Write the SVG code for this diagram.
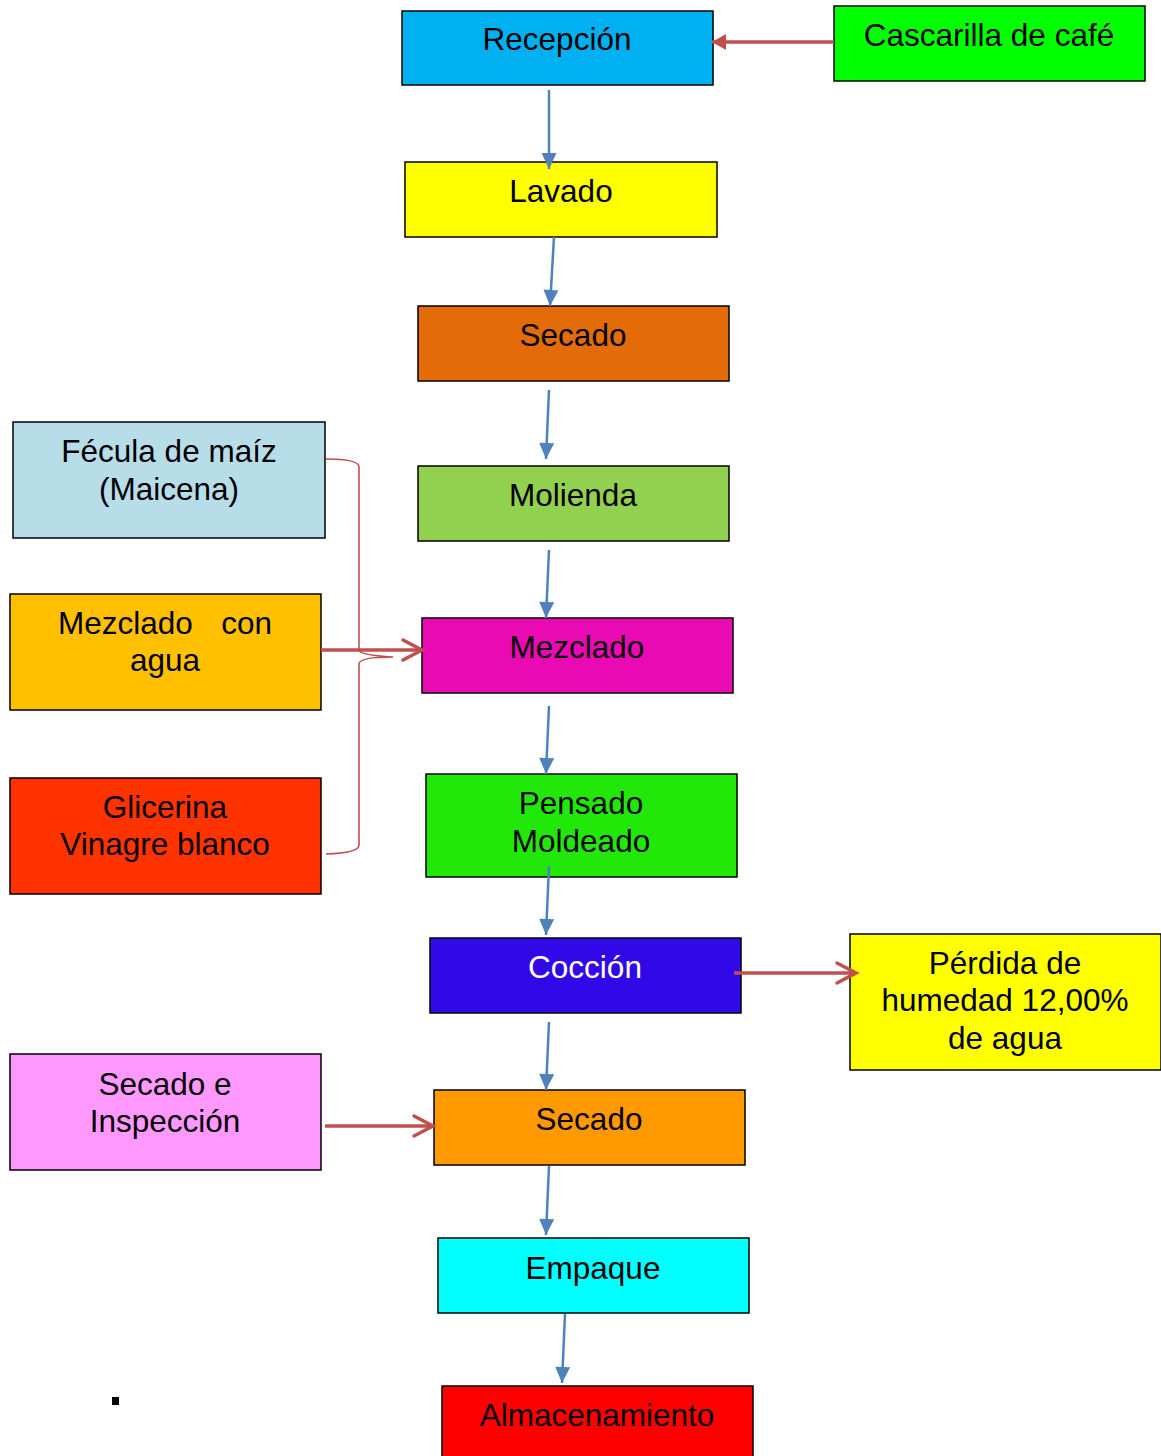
<svg xmlns="http://www.w3.org/2000/svg" width="1161" height="1456" viewBox="0 0 1161 1456">
<defs>
<style>
.box{stroke:#000;stroke-width:1.5}
.t{font-family:"Liberation Sans",Arial,sans-serif;font-size:31.5px;fill:#000;text-anchor:middle}
.blue{stroke:#4F81BD;stroke-width:2.5;fill:none}
.red{stroke:#C0504D;stroke-width:3.5;fill:none}
.brace{stroke:#C0504D;stroke-width:1.6;fill:none}
</style>
<marker id="bh" markerUnits="userSpaceOnUse" markerWidth="16" markerHeight="16" refX="16" refY="7.5" orient="auto" overflow="visible">
<path d="M0,0 L16,7.5 L0,15 z" fill="#4F81BD"/>
</marker>
<marker id="rh" markerUnits="userSpaceOnUse" markerWidth="16" markerHeight="16" refX="14" refY="8" orient="auto" overflow="visible">
<path d="M0,0 L14,8 L0,16 z" fill="#C0504D"/>
</marker>
<marker id="rv" markerUnits="userSpaceOnUse" markerWidth="24" markerHeight="24" refX="20" refY="11" orient="auto" overflow="visible">
<path d="M1,1 L20,11 L1,21" fill="none" stroke="#C0504D" stroke-width="3.5" stroke-linejoin="miter" stroke-linecap="round"/>
</marker>
</defs>
<rect width="1161" height="1456" fill="#fff"/>

<g id="recepcion"><rect class="box" x="402" y="11" width="311" height="74" fill="#00B0F0"/><text class="t" x="557" y="50">Recepción</text></g>
<g id="cascarilla"><rect class="box" x="834" y="6" width="311" height="75" fill="#00FF00"/><text class="t" x="989" y="46">Cascarilla de café</text></g>
<g id="lavado"><rect class="box" x="405" y="162" width="312" height="75" fill="#FFFF00"/><text class="t" x="561" y="202">Lavado</text></g>
<g id="secado1"><rect class="box" x="418" y="306" width="311" height="75" fill="#E36C09"/><text class="t" x="573" y="346">Secado</text></g>
<g id="molienda"><rect class="box" x="418" y="466" width="311" height="75" fill="#92D050"/><text class="t" x="573" y="506">Molienda</text></g>
<g id="mezclado"><rect class="box" x="422" y="618" width="311" height="75" fill="#EA0AB4"/><text class="t" x="577" y="658">Mezclado</text></g>
<g id="pensado"><rect class="box" x="426" y="774" width="311" height="103" fill="#22E80A"/><text class="t" x="581" y="814">Pensado</text><text class="t" x="581" y="852">Moldeado</text></g>
<g id="coccion"><rect class="box" x="430" y="938" width="311" height="75" fill="#3109E8"/><text class="t" x="585" y="978" style="fill:#fff">Cocción</text></g>
<g id="secado2"><rect class="box" x="434" y="1090" width="311" height="75" fill="#FF9900"/><text class="t" x="589" y="1130">Secado</text></g>
<g id="empaque"><rect class="box" x="438" y="1238" width="311" height="75" fill="#00FFFF"/><text class="t" x="593" y="1279">Empaque</text></g>
<g id="almacenamiento"><rect class="box" x="442" y="1386" width="311" height="80" fill="#FF0000"/><text class="t" x="597" y="1426">Almacenamiento</text></g>

<g id="fecula"><rect class="box" x="13" y="422" width="312" height="116" fill="#B7DDE8"/><text class="t" x="169" y="462">Fécula de maíz</text><text class="t" x="169" y="500">(Maicena)</text></g>
<g id="mezclado-agua"><rect class="box" x="10" y="594" width="311" height="116" fill="#FFC000"/><text class="t" x="58" y="634" style="text-anchor:start">Mezclado</text><text class="t" x="272" y="634" style="text-anchor:end">con</text><text class="t" x="165" y="671">agua</text></g>
<g id="glicerina"><rect class="box" x="10" y="778" width="311" height="116" fill="#FF3300"/><text class="t" x="165" y="818">Glicerina</text><text class="t" x="165" y="855">Vinagre blanco</text></g>
<g id="secado-inspeccion"><rect class="box" x="10" y="1054" width="311" height="116" fill="#FF99FF"/><text class="t" x="165" y="1095">Secado e</text><text class="t" x="165" y="1132">Inspección</text></g>
<g id="perdida"><rect class="box" x="850" y="934" width="311" height="136" fill="#FFFF00"/><text class="t" x="1005" y="974">Pérdida de</text><text class="t" x="1005" y="1011">humedad 12,00%</text><text class="t" x="1005" y="1049">de agua</text></g>

<g id="connectors">
<line class="blue" x1="549" y1="90" x2="549" y2="169" marker-end="url(#bh)"/>
<line class="blue" x1="554" y1="237" x2="550" y2="306" marker-end="url(#bh)"/>
<line class="blue" x1="549" y1="390" x2="546" y2="459" marker-end="url(#bh)"/>
<line class="blue" x1="549" y1="550" x2="546" y2="618" marker-end="url(#bh)"/>
<line class="blue" x1="549" y1="706" x2="546" y2="774" marker-end="url(#bh)"/>
<line class="blue" x1="549" y1="866" x2="546" y2="935" marker-end="url(#bh)"/>
<line class="blue" x1="549" y1="1022" x2="546" y2="1090" marker-end="url(#bh)"/>
<line class="blue" x1="549" y1="1166" x2="546" y2="1235" marker-end="url(#bh)"/>
<line class="blue" x1="565" y1="1314" x2="562" y2="1383" marker-end="url(#bh)"/>
<line class="red" x1="834" y1="42" x2="712" y2="42" marker-end="url(#rh)"/>
<line class="red" x1="734" y1="973" x2="856" y2="973" marker-end="url(#rv)"/>
<line class="red" x1="325" y1="1126" x2="433" y2="1126" marker-end="url(#rv)"/>
<line class="red" x1="321" y1="650" x2="422" y2="650" marker-end="url(#rv)"/>
<path class="brace" d="M326,459 Q359,459 359,467 L359,650 Q359,655 393,657 Q359,657 359,664 L359,845 Q359,853 326,854"/>
</g>

<rect x="112" y="1397" width="7" height="8" fill="#000"/>
</svg>
